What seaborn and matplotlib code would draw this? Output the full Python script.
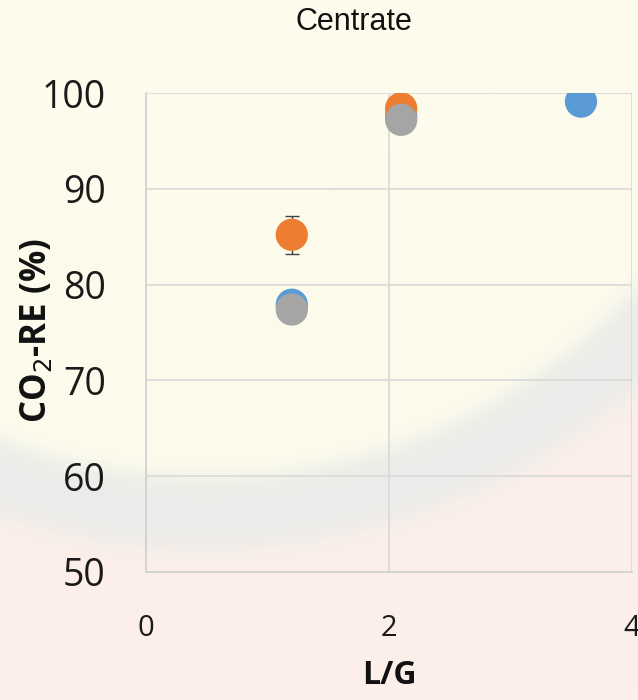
import numpy as np
import pandas as pd
import matplotlib
matplotlib.use("Agg")
import matplotlib.pyplot as plt
import seaborn as sns

# Liquid-to-gas ratio and CO2 removal efficiency per series
lg_blue = [1.2, 2.1, 3.58]
re_blue = [77.9, 97.6, 99.1]
lg_orange = [1.2, 2.1]
re_orange = [85.2, 98.4]
err_orange = [2.0, 0.0]
lg_gray = [1.2, 2.1]
re_gray = [77.4, 97.2]

series_names = ["A", "B", "C"]
colors = ["#5B9BD5", "#ED7D31", "#A5A5A5"]
x_ticks = [0, 2, 4]
y_ticks = [50, 60, 70, 80, 90, 100]

df = pd.DataFrame({
    "L/G": lg_blue + lg_orange + lg_gray,
    "RE": re_blue + re_orange + re_gray,
    "series": [series_names[0]] * len(lg_blue)
    + [series_names[1]] * len(lg_orange)
    + [series_names[2]] * len(lg_gray),
})

sns.set_theme(style="white")
plt.rcParams["font.family"] = ["Open Sans", "DejaVu Sans"]

W, H = 638, 700
fig = plt.figure(figsize=(W / 100, H / 100), dpi=100)

# Slide backdrop: pale yellow with a soft grey arc and a pinkish lower area
bg = fig.add_axes([0, 0, 1, 1])
yy, xx = np.mgrid[0:H, 0:W].astype(float)
r = np.hypot(xx - 206, yy + 107)
yellow = np.array([253, 252, 236]) / 255
grey = np.array([235, 235, 233]) / 255
pink = np.array([253, 239, 233]) / 255
t_out = 1 / (1 + np.exp(-(r - 640) / 8))
band = 1 / (1 + np.exp((np.abs(r - 620) - 36) / 7))
img = yellow[None, None, :] * (1 - t_out[..., None]) + pink[None, None, :] * t_out[..., None]
img = img * (1 - band[..., None]) + grey[None, None, :] * band[..., None]
bg.imshow(img, extent=[0, W, H, 0], aspect="auto", interpolation="bilinear")
bg.set_axis_off()

ax = fig.add_axes([146 / W, 1 - 572 / H, (632 - 146) / W, (572 - 93) / H])
ax.set_facecolor("none")

ax.errorbar(lg_orange, re_orange, yerr=err_orange, fmt="none",
            ecolor="#404040", elinewidth=1, capsize=5, capthick=1, zorder=2)
sns.scatterplot(data=df, x="L/G", y="RE", hue="series", palette=colors,
                hue_order=series_names, s=540, edgecolor="none",
                legend=False, ax=ax, zorder=3)

ax.set_xlim(0, 4)
ax.set_ylim(50, 100)
ax.set_xticks(x_ticks)
ax.set_yticks(y_ticks)
ax.grid(True, color="#D9D9D9", linewidth=1.2)
ax.set_axisbelow(True)
for side in ["top", "right"]:
    ax.spines[side].set_visible(False)
for side in ["left", "bottom"]:
    ax.spines[side].set_color("#D0D0D0")
    ax.spines[side].set_linewidth(1.2)
ax.tick_params(axis="y", labelsize=27, pad=29, length=0, colors="#1a1a1a")
ax.tick_params(axis="x", labelsize=21, pad=30, length=0, colors="#1a1a1a")

ax.set_xlabel("L/G", fontsize=23, fontweight="bold", color="#111111")
ax.xaxis.set_label_coords(0.5, -(675 - 572) / (572 - 93), transform=ax.transAxes)
ax.set_ylabel("CO$_2$-RE (%)", fontsize=25, fontweight="bold", color="#111111")
ax.yaxis.set_label_coords(-(146 - 37) / (632 - 146), (572 - 331) / (572 - 93))
ax.xaxis.label.set_va("center")
ax.yaxis.label.set_va("center")

fig.text(354 / W, 1 - 22 / H, "Centrate", fontsize=22, ha="center", va="center",
         family=["Liberation Sans", "DejaVu Sans"], color="#111111")

fig.savefig("out.png", dpi=100)
